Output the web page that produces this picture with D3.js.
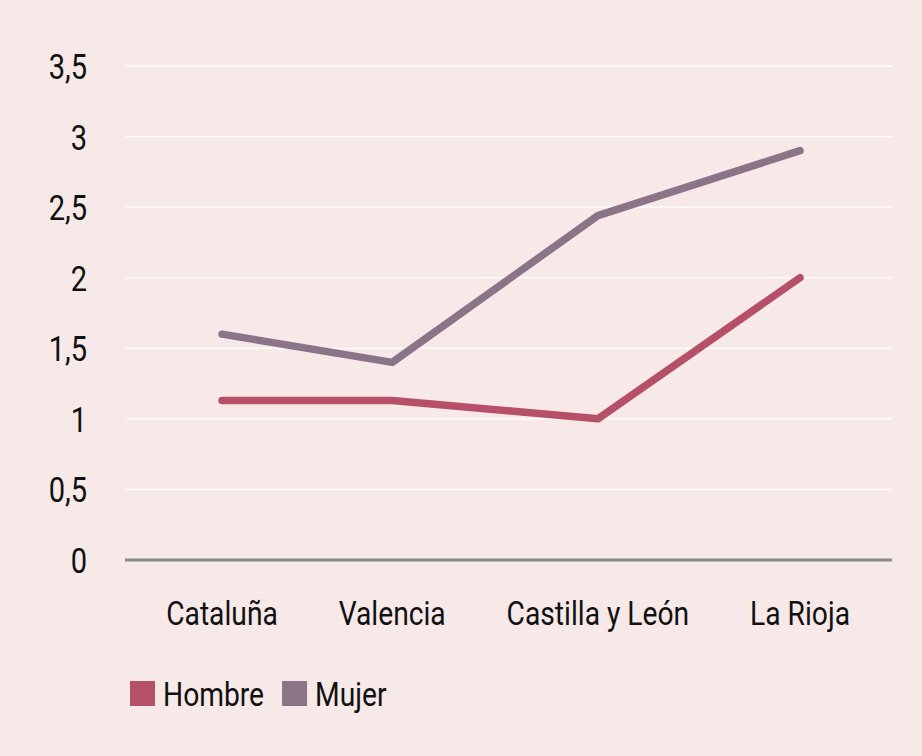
<!DOCTYPE html>
<html><head><meta charset="utf-8">
<script src="https://cdn.jsdelivr.net/npm/d3@7"></script>
<style>
html,body{margin:0;padding:0;background:#f6e9e8;}
svg{display:block;}
text{font-family:"Roboto","Liberation Sans",sans-serif;fill:#111;}
</style></head>
<body>
<svg id="chart" width="922" height="756"></svg>
<script>
const categories = ["Cataluña", "Valencia", "Castilla y León", "La Rioja"];
const hombre = [1.13, 1.13, 1.0, 2.0];
const mujer = [1.6, 1.4, 2.44, 2.9];
const yTicks = [0, 0.5, 1, 1.5, 2, 2.5, 3, 3.5];
const seriesNames = ["Hombre", "Mujer"];
const seriesColors = ["#b65068", "#8b7488"];

const SX = 0.83; // horizontal condensing to mimic the condensed face
const svg = d3.select("#chart");
const W = 922, H = 756;
svg.append("rect").attr("width", W).attr("height", H).attr("fill", "#f6e9e8");

const plotLeft = 125, plotRight = 892;
const y = d3.scaleLinear().domain([0, 3.5]).range([560, 66]);

function place(sel, fx, fy) {
  sel.attr("transform", (d, i) => `translate(${fx(d, i)},${fy(d, i)}) scale(${SX},1)`);
}

// grid lines
svg.append("g").selectAll("line").data(yTicks.filter(d => d > 0)).join("line")
  .attr("x1", plotLeft).attr("x2", plotRight)
  .attr("y1", d => y(d)).attr("y2", d => y(d))
  .attr("stroke", "#ffffff").attr("stroke-width", 1.3);

// y axis labels
const fmt = d => String(d).replace(".", ",");
const yl = svg.append("g").selectAll("text").data(yTicks).join("text")
  .attr("text-anchor", "end").attr("font-size", 35).text(fmt);
place(yl, () => 87, d => y(d) + 13);

// x layout from label widths
const xLabels = svg.append("g").selectAll("text").data(categories).join("text")
  .attr("font-size", 34).attr("text-anchor", "middle").text(d => d);
const widths = xLabels.nodes().map(n => n.getComputedTextLength() * SX);
const first = 222, last = 800;
let halfSum = 0;
for (let i = 0; i < widths.length - 1; i++) halfSum += widths[i] / 2 + widths[i + 1] / 2;
const gap = (last - first - halfSum) / (widths.length - 1);
const centers = [first];
for (let i = 1; i < widths.length; i++) centers.push(centers[i - 1] + widths[i - 1] / 2 + widths[i] / 2 + gap);
const x = d3.scaleOrdinal().domain(categories).range(centers);
place(xLabels, d => x(d), () => 625);

// baseline
svg.append("line").attr("x1", plotLeft).attr("x2", plotRight)
  .attr("y1", y(0)).attr("y2", y(0))
  .attr("stroke", "#8a8a8a").attr("stroke-width", 3);

// lines
const line = d3.line().x((d, i) => x(categories[i])).y(d => y(d));
[[mujer, seriesColors[1]], [hombre, seriesColors[0]]].forEach(([vals, color]) => {
  svg.append("path").datum(vals).attr("d", line)
    .attr("fill", "none").attr("stroke", color)
    .attr("stroke-width", 7.5).attr("stroke-linecap", "round").attr("stroke-linejoin", "round");
});

// legend
const lg = svg.append("g");
let lx = 130;
seriesNames.forEach((name, i) => {
  lg.append("rect").attr("x", lx).attr("y", 681).attr("width", 25).attr("height", 25).attr("fill", seriesColors[i]);
  const t = lg.append("text").attr("font-size", 34).text(name)
    .attr("transform", `translate(${lx + 33},706) scale(${SX},1)`);
  lx += 33 + t.node().getComputedTextLength() * SX + 18;
});
</script>
</body></html>
